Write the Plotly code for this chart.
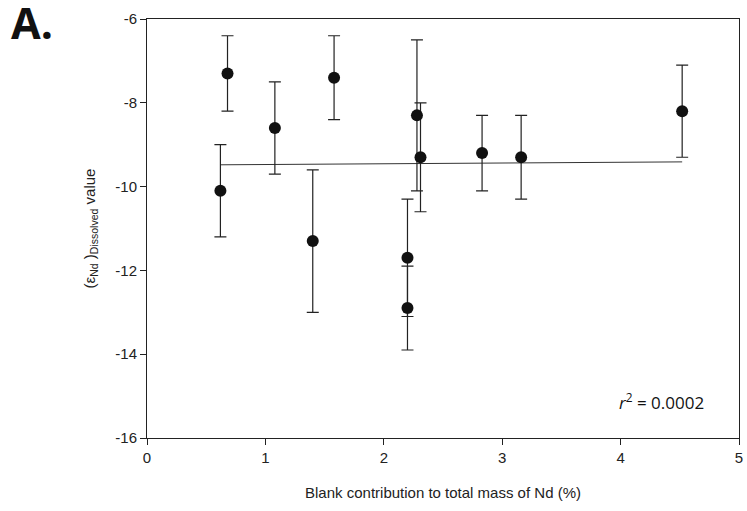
import plotly.graph_objects as go

# Blank contribution (%) and dissolved εNd with asymmetric uncertainties
blank_pct = [0.62, 0.68, 1.08, 1.40, 1.58, 2.28, 2.31, 2.20, 2.20, 2.83, 3.16, 4.52]
eps_nd = [-10.1, -7.3, -8.6, -11.3, -7.4, -8.3, -9.3, -11.7, -12.9, -9.2, -9.3, -8.2]
err_upper = [-9.0, -6.4, -7.5, -9.6, -6.4, -6.5, -8.0, -10.3, -11.9, -8.3, -8.3, -7.1]
err_lower = [-11.2, -8.2, -9.7, -13.0, -8.4, -10.1, -10.6, -13.1, -13.9, -10.1, -10.3, -9.3]

# Linear regression line endpoints
trend_x = [0.62, 4.52]
trend_y = [-9.48, -9.41]
r_squared = "0.0002"

x_ticks = [0, 1, 2, 3, 4, 5]
y_ticks = [-16, -14, -12, -10, -8, -6]
y_tick_text = ["-16", "-14", "-12", "-10", "-8", "-6"]

plus = [u - v for u, v in zip(err_upper, eps_nd)]
minus = [v - l for v, l in zip(eps_nd, err_lower)]

fig = go.Figure()

fig.add_trace(go.Scatter(
    x=trend_x, y=trend_y, mode="lines",
    line=dict(color="#333333", width=1),
    hoverinfo="skip", showlegend=False,
))

fig.add_trace(go.Scatter(
    x=blank_pct, y=eps_nd, mode="markers",
    marker=dict(color="#111111", size=12),
    error_y=dict(type="data", symmetric=False, array=plus, arrayminus=minus,
                 color="#222222", thickness=1.2, width=6),
    showlegend=False,
))

axis_font = dict(family="Liberation Sans", size=15, color="#222222")

fig.update_layout(
    width=747, height=511,
    margin=dict(l=147, r=4, t=19, b=73),
    paper_bgcolor="white", plot_bgcolor="white",
    font=axis_font,
    xaxis=dict(
        range=[0, 5], tickvals=x_ticks, ticks="outside", ticklen=6,
        ticklabeloverflow="allow",
        tickcolor="#222222", showline=True, linecolor="#222222", linewidth=1,
        mirror=True, showgrid=False, zeroline=False, tickfont=axis_font,
        title=dict(text="Blank contribution to total mass of Nd (%)",
                   font=axis_font, standoff=22),
    ),
    yaxis=dict(
        range=[-16, -6], tickvals=y_ticks, ticktext=y_tick_text,
        ticks="outside", ticklen=6,
        tickcolor="#222222", showline=True, linecolor="#222222", linewidth=1,
        mirror=True, showgrid=False, zeroline=False, tickfont=axis_font,
        title=dict(text="(ε<sub>Nd</sub> )<sub>Dissolved</sub> value",
                   font=dict(family="Liberation Sans", size=15, color="#222222"),
                   standoff=16),
    ),
    annotations=[
        dict(text="<b>A.</b>", xref="paper", yref="paper", x=-0.233, y=0.992,
             xanchor="left", yanchor="middle", showarrow=False,
             font=dict(family="Open Sans, sans-serif", size=43, color="#111111")),
        dict(text=f"<i>r</i><sup>2</sup> = {r_squared}", xref="paper", yref="paper",
             x=0.944, y=0.087, xanchor="right", yanchor="middle", showarrow=False,
             font=dict(family="Open Sans, sans-serif", size=17, color="#111111")),
    ],
)

fig.write_html("out.html")
